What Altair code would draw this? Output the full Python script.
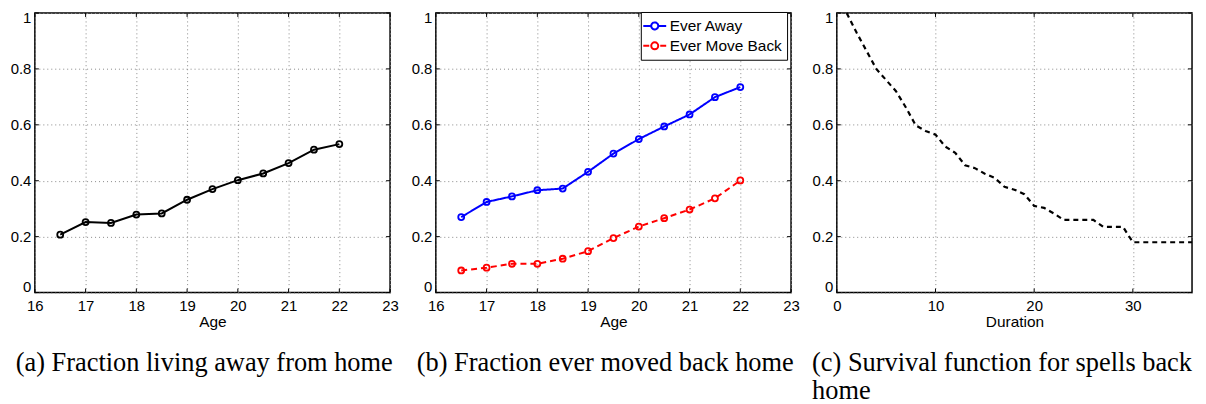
import altair as alt
import pandas as pd

# ---------------- data ----------------
ages = [16.5, 17, 17.5, 18, 18.5, 19, 19.5, 20, 20.5, 21, 21.5, 22]
frac_away = [0.207, 0.252, 0.249, 0.279, 0.283, 0.332, 0.370, 0.402, 0.426, 0.463, 0.511, 0.531]
ever_away = [0.270, 0.324, 0.344, 0.366, 0.372, 0.432, 0.497, 0.549, 0.594, 0.637, 0.699, 0.735]
ever_back = [0.079, 0.089, 0.103, 0.103, 0.121, 0.148, 0.195, 0.236, 0.266, 0.297, 0.337, 0.401]
series_names = ["Ever Away", "Ever Move Back"]

durations = list(range(1, 37))
survival = [1.000, 0.930, 0.865, 0.800, 0.760, 0.720, 0.662, 0.598, 0.578, 0.565,
            0.522, 0.500, 0.455, 0.445, 0.425, 0.410, 0.378, 0.368, 0.352, 0.310,
            0.303, 0.283, 0.260, 0.260, 0.260, 0.260, 0.235, 0.235, 0.235, 0.180,
            0.180, 0.180, 0.180, 0.180, 0.180, 0.180]

age_ticks = [16, 17, 18, 19, 20, 21, 22, 23]
dur_ticks = [0, 10, 20, 30]
y_ticks = [0, 0.2, 0.4, 0.6, 0.8, 1.0]

captions = [
    "(a) Fraction living away from home",
    "(b) Fraction ever moved back home",
    ["(c) Survival function for spells back", "home"],
]

# ---------------- styling ----------------
W, H = 357, 281
GAP = 46
SANS = "Liberation Sans"
SERIF = "Liberation Serif"
TICK = 4

df_a = pd.DataFrame({"x": ages, "y": frac_away})
df_b = pd.DataFrame({
    "x": ages * 2,
    "y": ever_away + ever_back,
    "series": [series_names[0]] * len(ages) + [series_names[1]] * len(ages),
})
df_c = pd.DataFrame({"x": durations, "y": survival})

y_scale = alt.Scale(domain=[0, 1], nice=False, zero=False)
y_enc = alt.Y("y:Q", scale=y_scale,
              axis=alt.Axis(values=y_ticks, format=".1~f", title=None,
                            labelPadding=4, labelFlush=True, labelFlushOffset=2))


def x_enc(domain, ticks, title):
    return alt.X("x:Q", scale=alt.Scale(domain=domain, nice=False, zero=False),
                 axis=alt.Axis(values=ticks, format="d", title=title,
                               labelFlush=False, labelPadding=6, titlePadding=1))


def tick_layers(xe, xticks):
    dx = pd.DataFrame({"x": xticks})
    dy = pd.DataFrame({"y": y_ticks})
    top = alt.Chart(dx).mark_rule(color="black", strokeWidth=1).encode(
        x=xe, y=alt.value(0), y2=alt.value(TICK))
    bot = alt.Chart(dx).mark_rule(color="black", strokeWidth=1).encode(
        x=xe, y=alt.value(H), y2=alt.value(H - TICK))
    left = alt.Chart(dy).mark_rule(color="black", strokeWidth=1).encode(
        y=y_enc, x=alt.value(0), x2=alt.value(TICK))
    right = alt.Chart(dy).mark_rule(color="black", strokeWidth=1).encode(
        y=y_enc, x=alt.value(W), x2=alt.value(W - TICK))
    return [top, bot, left, right]


def caption(text, anchor="middle"):
    return alt.TitleParams(text=text, orient="bottom", anchor=anchor, frame="bounds",
                           font=SERIF, fontSize=26.5, fontWeight="normal", color="black",
                           offset=20, lineHeight=28, align="left" if anchor == "start" else "center")


# ---------------- panel (a) ----------------
xa = x_enc([16, 23], age_ticks, "Age")
line_a = alt.Chart(df_a).mark_line(color="black", strokeWidth=2).encode(x=xa, y=y_enc)
pts_a = alt.Chart(df_a).mark_point(shape="circle", filled=False, color="black",
                                   size=36, strokeWidth=1.8, opacity=1).encode(x=xa, y=y_enc)
panel_a = alt.layer(*tick_layers(xa, age_ticks), line_a, pts_a).properties(
    width=W, height=H, title=caption(captions[0]))

# ---------------- panel (b) ----------------
# legend glyph: line segment, small circle (as four short arcs), line segment
SYM = ("M-1.44,0H-0.44M1.44,0H0.44"
       "M-0.44,0A0.44,0.44,0,0,1,0,-0.44"
       "M0,-0.44A0.44,0.44,0,0,1,0.44,0"
       "M0.44,0A0.44,0.44,0,0,1,0,0.44"
       "M0,0.44A0.44,0.44,0,0,1,-0.44,0")
legend = alt.Legend(title=None, orient="none", legendX=W + GAP + 206, legendY=-1,
                    strokeColor="black",
                    fillColor="white", padding=5, cornerRadius=0, labelFont=SANS,
                    labelFontSize=15.5, labelColor="black", symbolType=SYM, symbolSize=256,
                    symbolStrokeWidth=2, symbolFillColor="white", rowPadding=2,
                    labelOffset=6)
color_scale = alt.Scale(domain=series_names, range=["#0000ff", "#ff0000"])
dash_scale = alt.Scale(domain=series_names, range=[[1, 0], [6, 4]])
xb = x_enc([16, 23], age_ticks, "Age")
line_b = alt.Chart(df_b).mark_line(strokeWidth=2).encode(
    x=xb, y=y_enc,
    color=alt.Color("series:N", scale=color_scale, legend=legend),
    strokeDash=alt.StrokeDash("series:N", scale=dash_scale, legend=legend),
)
pts_b = alt.Chart(df_b).mark_point(shape="circle", filled=False, size=36,
                                   strokeWidth=1.8, opacity=1).encode(
    x=xb, y=y_enc,
    color=alt.Color("series:N", scale=color_scale, legend=legend),
)
panel_b = alt.layer(*tick_layers(xb, age_ticks), line_b, pts_b).properties(
    width=W, height=H, title=caption(captions[1]))

# ---------------- panel (c) ----------------
xc = x_enc([0, 36], dur_ticks, "Duration")
line_c = alt.Chart(df_c).mark_line(color="black", strokeWidth=2.2,
                                   strokeDash=[5, 4]).encode(x=xc, y=y_enc)
panel_c = alt.layer(*tick_layers(xc, dur_ticks), line_c).properties(
    width=W, height=H, title=caption(captions[2], anchor="start"))

chart = alt.hconcat(panel_a, panel_b, panel_c, spacing=GAP, bounds="flush").properties(
    padding={"left": 1, "top": -2, "right": 0, "bottom": 0}
).configure_view(
    stroke="black", strokeWidth=1.5
).configure_axis(
    labelFont=SANS, labelFontSize=15, labelColor="black",
    titleFont=SANS, titleFontSize=15.5, titleFontWeight="normal", titleColor="black",
    grid=True, gridColor="#888888", gridDash=[1, 3], gridWidth=1,
    domain=False, ticks=False,
)

chart.save("out.html", embed_options={"renderer": "svg", "actions": False})
